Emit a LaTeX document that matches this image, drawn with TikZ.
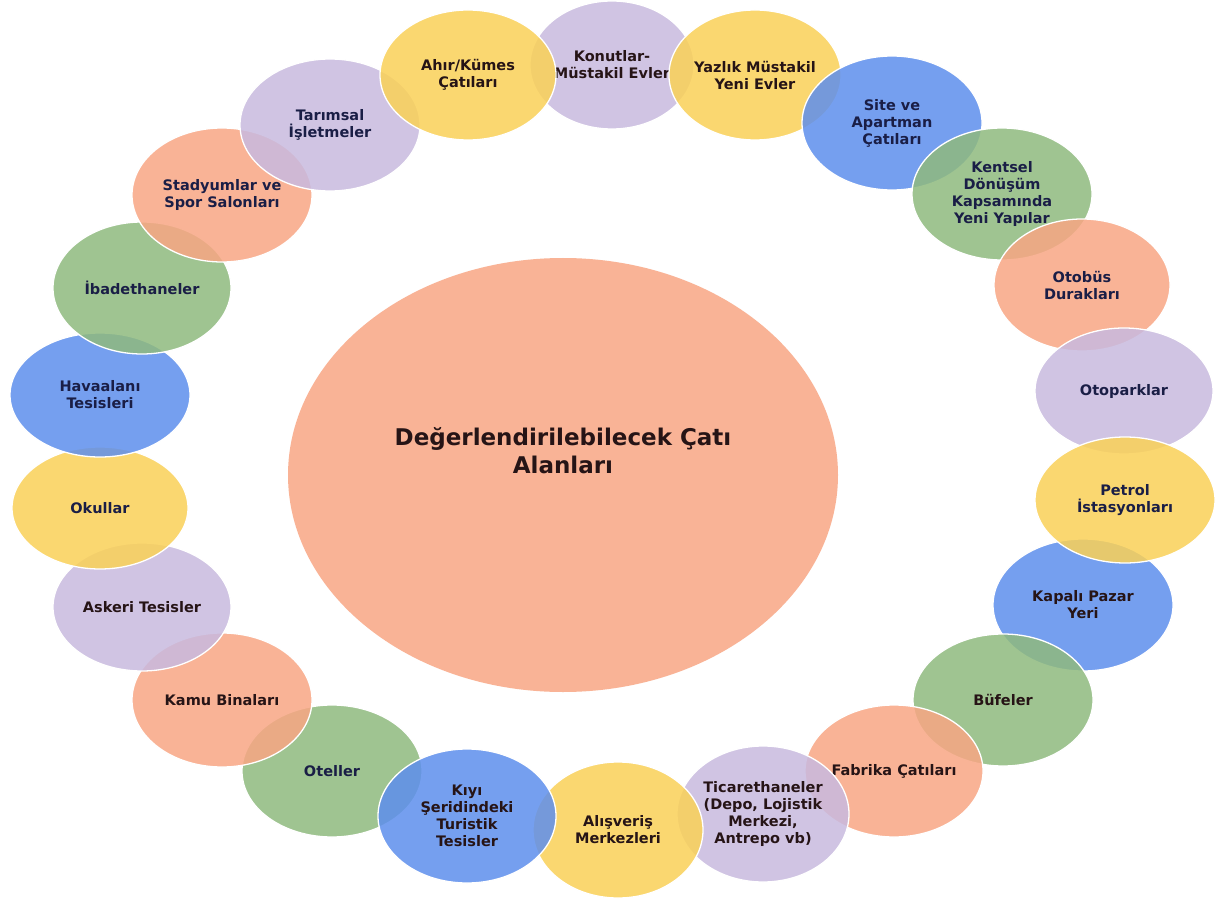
\documentclass[tikz,border=0pt]{standalone}
\usepackage{fontspec}
\setmainfont{DejaVu Sans}
\usetikzlibrary{shapes.geometric}
\definecolor{cpeach}{RGB}{248,166,132}
\definecolor{cyellow}{RGB}{250,209,87}
\definecolor{clav}{RGB}{200,186,223}
\definecolor{cblue}{RGB}{94,143,237}
\definecolor{cgreen}{RGB}{143,186,126}
\definecolor{tdark}{RGB}{38,20,22}
\definecolor{tnavy}{RGB}{26,30,70}
\tikzset{
  blob/.style={ellipse, draw=white, line width=1.3pt, fill opacity=0.85, text opacity=1,
    inner sep=0pt, align=center, text=tdark,
    font=\bfseries\fontsize{14.5}{17}\selectfont},
  sz/.style 2 args={minimum width=#1pt, minimum height=#2pt},
  navy/.style={text=tnavy}
}
\begin{document}
\begin{tikzpicture}[x=1pt,y=-1pt]
\useasboundingbox (0,0) rectangle (1218,901);
\fill[white] (0,0) rectangle (1218,901);
% centre
\node[blob, fill=cpeach, fill opacity=0.85, draw=none, sz={550}{434}] (center) at (563,475) {};
\node[align=center, text=tdark, font=\bfseries\fontsize{23}{28}\selectfont] (centertext) at (563,451)
  {Değerlendirilebilecek Çatı\\Alanları};
% left chain
\node[blob, navy, fill=cgreen, sz={180}{132}] (otel) at (332,771) {Oteller};
\node[blob, fill=cpeach, sz={180}{134}] (kamu) at (222,700) {Kamu Binaları};
\node[blob, fill=clav, sz={178}{128}] (ask) at (142,607) {Askeri Tesisler};
\node[blob, navy, fill=cyellow, sz={176}{122}] (okul) at (100,508) {Okullar};
\node[blob, navy, fill=cblue, sz={180}{124}] (hava) at (100,395) {Havaalanı\\Tesisleri};
\node[blob, navy, fill=cgreen, sz={178}{132}] (ibad) at (142,288) {İbadethaneler};
\node[blob, navy, fill=cpeach, sz={180}{134}] (stad) at (222,195) {Stadyumlar ve\\Spor Salonları};
\node[blob, navy, fill=clav, sz={180}{132}] (tar) at (330,125) {Tarımsal\\İşletmeler};
% top
\node[blob, fill=clav, sz={158}{128}] (kon) at (612,65) {Konutlar-\\Müstakil Evler};
\node[blob, fill=cyellow, sz={176}{130}] (ahir) at (468,75) {Ahır/Kümes\\Çatıları};
\node[blob, fill=cyellow, sz={172}{130}] (yaz) at (755,75) {Yazlık Müstakil\\Yeni Evler};
% right chain
\node[blob, navy, fill=cblue, sz={180}{134}] (site) at (892,123) {Site ve\\Apartman\\Çatıları};
\node[blob, navy, fill=cgreen, sz={180}{132}] (kent) at (1002,194) {Kentsel\\Dönüşüm\\Kapsamında\\Yeni Yapılar};
\node[blob, navy, fill=cpeach, sz={176}{132}] (otob) at (1082,285) {Otobüs\\Durakları};
\node[blob, navy, fill=clav, sz={178}{126}] (otop) at (1124,391) {Otoparklar};
\node[blob, fill=cblue, sz={180}{132}] (kap) at (1083,605) {Kapalı Pazar\\Yeri};
\node[blob, navy, fill=cyellow, sz={180}{126}] (pet) at (1125,500) {Petrol\\İstasyonları};
\node[blob, fill=cgreen, sz={180}{132}] (buf) at (1003,700) {Büfeler};
\node[blob, fill=cpeach, sz={178}{132}] (fab) at (894,771) {Fabrika Çatıları};
% bottom
\node[blob, fill=clav, sz={172}{136}] (tic) at (763,814) {Ticarethaneler\\(Depo, Lojistik\\Merkezi,\\Antrepo vb)};
\node[blob, fill=cyellow, sz={170}{136}] (alis) at (618,830) {Alışveriş\\Merkezleri};
\node[blob, fill=cblue, sz={178}{134}] (kiyi) at (467,816) {Kıyı\\Şeridindeki\\Turistik\\Tesisler};
\end{tikzpicture}
\end{document}
